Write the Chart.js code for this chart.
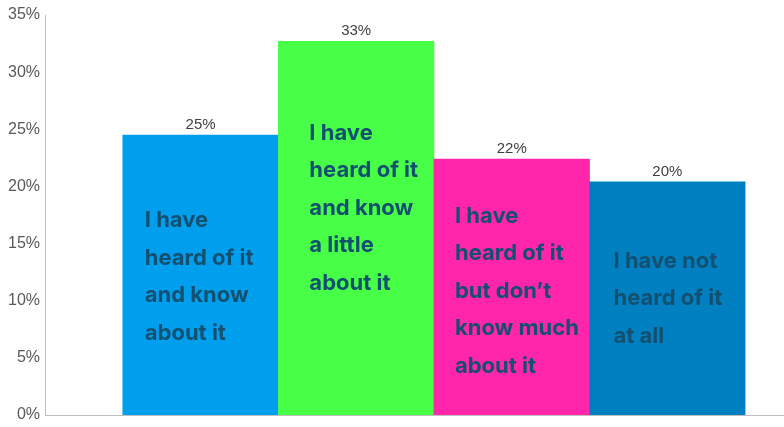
<!DOCTYPE html>
<html>
<head>
<meta charset="utf-8">
<script src="https://cdn.jsdelivr.net/npm/chart.js@4"></script>
<style>
  html, body { margin: 0; padding: 0; background: #ffffff; }
  #wrap { width: 784px; height: 427px; }
</style>
</head>
<body>
<div id="wrap"><canvas id="chart"></canvas></div>
<script>
// Share of respondents by awareness level (%)
const categories = [
  ['I have', 'heard of it', 'and know', 'about it'],
  ['I have', 'heard of it', 'and know', 'a little', 'about it'],
  ['I have', 'heard of it', 'but don\u2019t', 'know much', 'about it'],
  ['I have not', 'heard of it', 'at all']
];
const values = [24.5, 32.7, 22.4, 20.4];
const barColors = ['#009FEE', '#48FF48', '#FF26AB', '#0080C0'];
const yTicks = [0, 5, 10, 15, 20, 25, 30, 35];

// Label placement inside each bar
const textInset = [22, 31, 21, 24];
const textShift = [2, -20, 4, 0];
const lineGap = 37.5;

const barTextPlugin = {
  id: 'barText',
  afterDatasetsDraw(chart) {
    const ctx = chart.ctx;
    const meta = chart.getDatasetMeta(0);
    const yScale = chart.scales.y;
    ctx.save();
    meta.data.forEach((bar, i) => {
      const left = bar.x - bar.width / 2;
      const top = bar.y;
      const bottom = yScale.getPixelForValue(0);

      // value above the bar
      ctx.font = '15px "Liberation Sans", Arial, sans-serif';
      ctx.fillStyle = '#404040';
      ctx.textAlign = 'center';
      ctx.textBaseline = 'alphabetic';
      ctx.fillText(Math.round(values[i]) + '%', bar.x, top - 6);

      // description inside the bar
      const lines = categories[i];
      const mid = (top + bottom) / 2 + textShift[i];
      const firstY = mid - (lines.length - 1) * lineGap / 2;
      ctx.font = '700 22px Inter, "Open Sans", sans-serif';
      ctx.fillStyle = '#134F6F';
      ctx.textAlign = 'left';
      ctx.textBaseline = 'middle';
      lines.forEach((ln, k) => {
        ctx.fillText(ln, left + textInset[i], firstY + k * lineGap);
      });
    });
    ctx.restore();
  }
};

new Chart(document.getElementById('chart'), {
  type: 'bar',
  data: {
    datasets: [{
      data: values.map((v, i) => ({ x: i, y: v })),
      backgroundColor: barColors,
      borderWidth: 0,
      barPercentage: 1,
      categoryPercentage: 1
    }]
  },
  options: {
    responsive: true,
    maintainAspectRatio: false,
    animation: false,
    layout: { autoPadding: false, padding: { top: 15, bottom: 12, left: 0, right: 0 } },
    plugins: {
      legend: { display: false },
      tooltip: { enabled: false }
    },
    scales: {
      x: {
        type: 'linear',
        min: -1,
        max: 3.75,
        offset: false,
        afterBuildTicks(scale) { scale.ticks = [0, 1, 2, 3].map(v => ({ value: v })); },
        grid: { display: false },
        ticks: { display: false },
        border: { display: true, color: '#BFBFBF', width: 1 },
        afterFit(scale) { scale.height = 0; }
      },
      y: {
        min: 0,
        max: 35,
        afterBuildTicks(scale) { scale.ticks = yTicks.map(v => ({ value: v })); },
        grid: { display: false, drawTicks: false },
        border: { display: true, color: '#BFBFBF', width: 1 },
        ticks: {
          padding: 5,
          color: '#595959',
          font: { family: '"Liberation Sans", Arial, sans-serif', size: 16 },
          callback: v => v + '%'
        },
        afterFit(scale) {
          scale.width = 45;
          scale.paddingTop = 0;
          scale.paddingBottom = 0;
        }
      }
    }
  },
  plugins: [barTextPlugin]
});
</script>
</body>
</html>
